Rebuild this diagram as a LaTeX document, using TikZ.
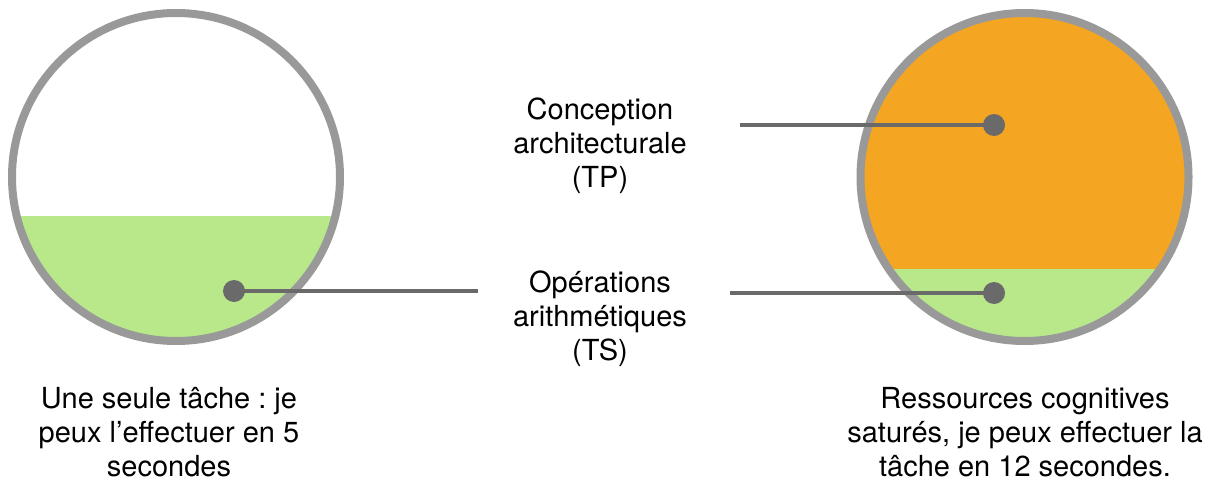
\documentclass[tikz,border=0pt]{standalone}
\usepackage{fontspec}
\setmainfont{TeX Gyre Heros}
\frenchspacing
\definecolor{ringgray}{HTML}{999999}
\definecolor{dotgray}{HTML}{6A6A6A}
\definecolor{lightgreen}{HTML}{B9E88A}
\definecolor{orangefill}{HTML}{F4A623}
\begin{document}
\begin{tikzpicture}[x=1pt,y=-1pt,
  ring/.style={draw=ringgray,line width=8pt},
  dotnode/.style={circle,fill=dotgray,inner sep=0pt,minimum size=22pt},
  leader/.style={draw=dotgray,line width=4pt},
  lbl/.style={align=center,font=\fontsize{29}{34}\selectfont,inner sep=0pt}]
\useasboundingbox (0,0) rectangle (1214,479);
% left circle
\begin{scope}
  \clip (176,177) circle (164);
  \fill[lightgreen] (0,216) rectangle (360,360);
\end{scope}
\draw[ring] (176,177) circle (164);
% right circle
\begin{scope}
  \clip (1024.5,177) circle (164);
  \fill[orangefill] (850,0) rectangle (1214,269);
  \fill[lightgreen] (850,269) rectangle (1214,360);
\end{scope}
\draw[ring] (1024.5,177) circle (164);
% dots
\node[dotnode] (dL) at (234,291) {};
\node[dotnode] (dTP) at (994,125) {};
\node[dotnode] (dTS) at (994,293) {};
\coordinate (eL) at (478,291);
\coordinate (eTP) at (740,125);
\coordinate (eTS) at (730,293);
\draw[leader] (dL.center) -- (eL);
\draw[leader] (eTP) -- (dTP.center);
\draw[leader] (eTS) -- (dTS.center);
% labels
\node[lbl] (tp) at (600,146) {Conception\\architecturale\\(TP)};
\node[lbl] (ts) at (600,319) {Opérations\\arithmétiques\\(TS)};
\node[lbl] (capL) at (169,432) {Une seule tâche : je\\peux l’effectuer en 5\\secondes};
\node[lbl] (capR) at (1025,432) {Ressources cognitives\\saturés, je peux effectuer la\\tâche en 12 secondes.};
\end{tikzpicture}
\end{document}
